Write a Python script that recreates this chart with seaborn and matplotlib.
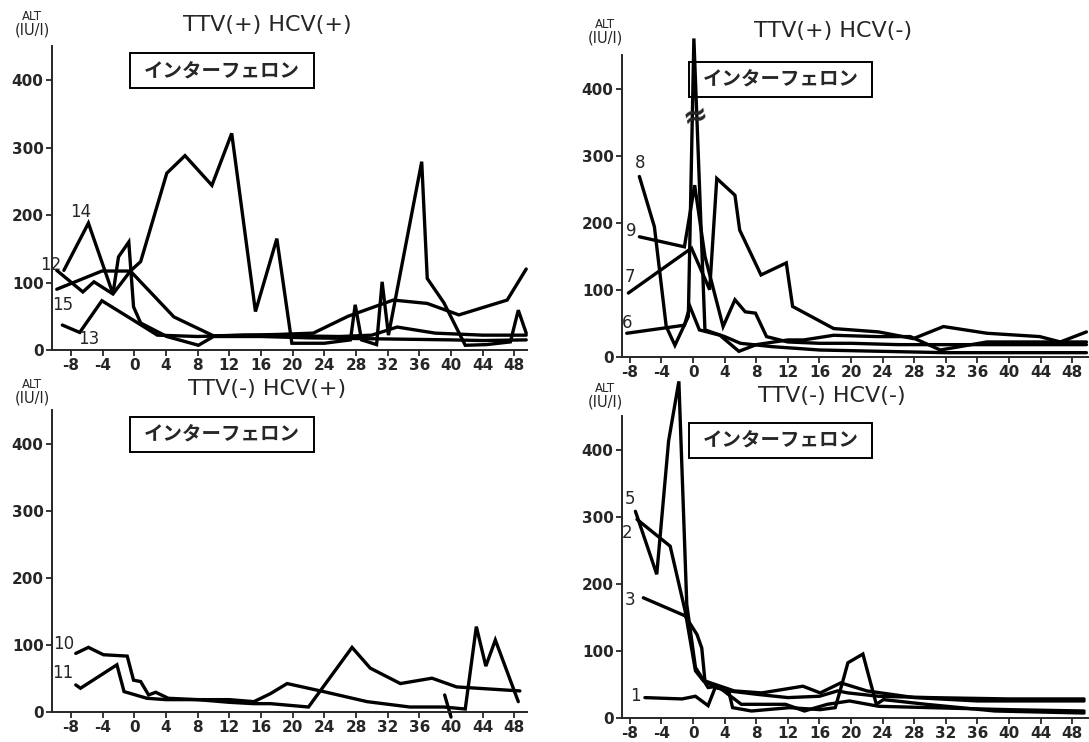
import matplotlib
matplotlib.use("Agg")
import matplotlib.pyplot as plt
import seaborn as sns
import pandas as pd
from matplotlib.patches import Rectangle

# -------------------------------
# Data (weeks vs ALT)
# -------------------------------
# TTV(+) HCV(+)
p12_wk = [-9.8, -6.5, -5.1, -2.7, -0.5, 5.0, 10.0, 14, 18, 22.6, 27, 32.7, 37.0, 41.0, 47.1, 49.5]
p12_alt = [118, 86, 101, 83, 117, 49, 21, 22, 23, 25, 50, 74, 69, 52, 74, 120]
p13_wk = [-9.1, -6.9, -4.1, -0.1, 2.9, 8, 14, 20, 26, 30, 33.2, 38, 44, 49.5]
p13_alt = [37, 26, 73, 44, 22, 20, 22, 21, 20, 22, 34, 25, 22, 22]
p14_wk = [-8.9, -5.8, -2.7, -2.0, -0.7, -0.1, 0.8, 4.1, 8.1, 10.0, 16, 22, 28, 34, 40, 44, 49.5]
p14_alt = [118, 188, 83, 138, 160, 64, 40, 20, 7, 20, 20, 18, 17, 16, 15, 14, 15]
p15_wk = [-9.8, -4.1, -0.5, 0.8, 4.1, 6.4, 9.8, 12.3, 15.3, 18.0, 19.9, 24, 27.3, 27.9, 28.7,
          30.6, 31.3, 32.1, 36.3, 37.0, 39.1, 41.8, 44.5, 47.5, 48.5, 49.5]
p15_alt = [90, 117, 117, 131, 262, 288, 244, 321, 57, 165, 10, 10, 15, 67, 15,
           8, 101, 22, 279, 106, 70, 7, 8, 12, 59, 25]

# TTV(+) HCV(-)
p6_wk = [-8.4, -1.1, -0.4, 0.8, 3.4, 5.8, 8, 12, 14, 17.8, 23.3, 27.5, 31.3, 37.2, 44, 49.8]
p6_alt = [35, 47, 75, 40, 32, 8, 18, 25, 25, 32, 30, 30, 10, 22, 22, 22]
p7_wk = [-8.2, -0.2, 2.1, 3.0, 5.3, 5.9, 8.6, 11.8, 12.6, 17.8, 23.5, 27.9, 31.7, 37.2, 43.9, 46.5, 49.8]
p7_alt = [95, 162, 100, 266, 241, 189, 122, 140, 75, 42, 37, 27, 45, 35, 30, 22, 37]
p8_wk = [-6.8, -4.9, -3.4, -2.3, -0.6, 0.1, 1.5, 4, 6, 10, 16, 24, 32, 40, 49.8]
p8_alt = [269, 194, 45, 17, 60, 475, 40, 30, 20, 15, 10, 8, 6, 6, 6]
p9_wk = [-6.8, -1.1, 0.2, 1.5, 3.8, 5.3, 6.6, 7.9, 9.3, 12, 16, 20, 26, 32, 40, 49.8]
p9_alt = [179, 164, 256, 150, 45, 85, 67, 65, 30, 22, 20, 20, 18, 18, 18, 18]

# TTV(-) HCV(+)
p10_wk = [-7.4, -5.8, -3.9, -0.9, -0.1, 0.8, 1.8, 2.7, 4.3, 8, 12, 15.1, 17.2, 19.3, 23.9,
          29.4, 34.8, 39.1, 41.8, 43.2, 44.4, 45.6, 48.5]
p10_alt = [87, 96, 85, 83, 47, 45, 25, 29, 20, 18, 18, 15, 27, 42, 30,
           15, 7, 7, 4, 127, 68, 107, 15]
p11_wk = [-7.4, -6.8, -2.2, -1.3, 1.6, 4, 8, 12, 15.1, 17.2, 22.0, 27.5, 29.8, 33.6, 37.6, 40.7, 48.7]
p11_alt = [40, 35, 70, 30, 20, 18, 18, 14, 12, 12, 7, 96, 65, 42, 50, 37, 31]
stub_wk = [39.2, 40.0]
stub_alt = [25, -8]

# TTV(-) HCV(-)
p1_wk = [-6.1, -1.4, 0.3, 1.9, 2.8, 4.5, 8, 12, 16, 18.3, 19.6, 23.5, 30, 40, 49.5]
p1_alt = [30, 28, 32, 18, 45, 40, 35, 30, 32, 40, 37, 32, 30, 28, 28]
p2_wk = [-7.1, -2.9, -1.0, 0.3, 1.3, 2.5, 4.5, 5.0, 7.4, 12.2, 16.1, 18.0, 18.9, 19.6,
         21.5, 23.2, 24.1, 29.5, 38.2, 49.5]
p2_alt = [296, 256, 159, 70, 55, 48, 40, 15, 10, 15, 12, 15, 52, 82, 95, 20, 27, 20, 10, 7]
p3_wk = [-6.3, -1.0, 0.5, 1.1, 1.5, 2.2, 5.2, 8.7, 13.9, 16.1, 18.7, 22, 28, 36, 49.5]
p3_alt = [179, 152, 124, 104, 55, 52, 40, 37, 47, 37, 52, 40, 30, 25, 25]
p5_wk = [-7.3, -4.6, -3.1, -1.8, -0.8, 0.3, 1.9, 3.1, 6.1, 11.7, 14.1, 17, 19.8, 23.5, 30, 40, 49.5]
p5_alt = [308, 214, 413, 502, 169, 75, 45, 47, 20, 20, 10, 20, 25, 17, 15, 12, 10]

week_ticks = list(range(-8, 49, 4))
alt_ticks = [0, 100, 200, 300, 400]
ifn_weeks = (-0.5, 22.7)  # interferon box span
box_alt = (388, 440)

# -------------------------------
# Style
# -------------------------------
sns.set_style("ticks")
plt.rcParams["font.family"] = ["DejaVu Sans", "Noto Sans CJK JP"]
plt.rcParams["axes.linewidth"] = 1.4
plt.rcParams["axes.unicode_minus"] = False

W, H = 1089, 742
fig = plt.figure(figsize=(W / 100, H / 100), dpi=100)


def add_px_axes(left, right, top, bottom):
    return fig.add_axes([left / W, 1 - bottom / H, (right - left) / W, (bottom - top) / H])


panels = [
    dict(title="TTV(+) HCV(+)", box=(52, 527, 46.3, 350), xlim=(-10.4, 49.6),
         series={"12": (p12_wk, p12_alt), "13": (p13_wk, p13_alt),
                 "14": (p14_wk, p14_alt), "15": (p15_wk, p15_alt)},
         labels=[("14", -6.8, 205), ("12", -10.6, 126), ("15", -9.0, 67), ("13", -5.8, 17)],
         title_px=(267, 25), alt_px=(32, 17)),
    dict(title="TTV(+) HCV(-)", box=(622, 1088, 55.2, 356.7), xlim=(-9.0, 50),
         series={"6": (p6_wk, p6_alt), "7": (p7_wk, p7_alt),
                 "8": (p8_wk, p8_alt), "9": (p9_wk, p9_alt)},
         labels=[("8", -6.7, 289), ("9", -7.8, 187), ("7", -8.0, 119), ("6", -8.3, 51)],
         title_px=(833, 31), alt_px=(605, 25)),
    dict(title="TTV(-) HCV(+)", box=(52, 527, 410.2, 711.7), xlim=(-10.4, 49.6),
         series={"10": (p10_wk, p10_alt), "11": (p11_wk, p11_alt), "s": (stub_wk, stub_alt)},
         labels=[("10", -8.9, 101), ("11", -9.1, 58)],
         title_px=(267, 389), alt_px=(32, 385)),
    dict(title="TTV(-) HCV(-)", box=(622, 1088, 416.2, 717.7), xlim=(-9.0, 50),
         series={"1": (p1_wk, p1_alt), "2": (p2_wk, p2_alt),
                 "3": (p3_wk, p3_alt), "5": (p5_wk, p5_alt)},
         labels=[("5", -8.0, 327), ("2", -8.4, 276), ("3", -8.0, 175), ("1", -7.3, 32)],
         title_px=(832, 396), alt_px=(605, 389)),
]

for i, p in enumerate(panels):
    ax = add_px_axes(*p["box"])
    df = pd.concat([pd.DataFrame({"week": wk, "alt": alt, "patient": name})
                    for name, (wk, alt) in p["series"].items()], ignore_index=True)
    sns.lineplot(data=df, x="week", y="alt", units="patient", estimator=None, sort=False,
                 color="black", linewidth=2.4, ax=ax, legend=False)
    for ln in ax.lines:
        ln.set_clip_on(False)
        ln.set_solid_joinstyle("miter")

    ax.set_xlim(*p["xlim"])
    ax.set_ylim(0, 450)
    ax.set_xticks(week_ticks)
    ax.set_yticks(alt_ticks)
    ax.set_xlabel("")
    ax.set_ylabel("")
    ax.tick_params(labelsize=11, length=4, width=1.3, pad=2)
    for lbl in ax.get_xticklabels() + ax.get_yticklabels():
        lbl.set_fontweight("bold")
    sns.despine(ax=ax)

    # interferon box
    ax.add_patch(Rectangle((ifn_weeks[0], box_alt[0]), ifn_weeks[1] - ifn_weeks[0],
                           box_alt[1] - box_alt[0], fill=False, edgecolor="black",
                           linewidth=1.4, clip_on=False))
    ax.text((ifn_weeks[0] + ifn_weeks[1]) / 2, sum(box_alt) / 2, "インターフェロン",
            family=["Noto Sans CJK JP"], fontsize=14, fontweight="bold",
            ha="center", va="center")

    for txt, x, y in p["labels"]:
        ax.text(x, y, txt, fontsize=12, ha="center", va="center")

    if i == 1:
        ax.text(0.4, 358, "≈", fontsize=22, fontweight="bold", ha="center", va="center",
                rotation=15)

    tx, ty = p["title_px"]
    fig.text(tx / W, 1 - ty / H, p["title"], fontsize=16, ha="center", va="center")
    axx, axy = p["alt_px"]
    fig.text(axx / W, 1 - axy / H, "ALT", fontsize=8.5, ha="center", va="center")
    fig.text(axx / W, 1 - (axy + 13) / H, "(IU/l)", fontsize=10.5, ha="center", va="center")

fig.savefig("out.png", dpi=100)
